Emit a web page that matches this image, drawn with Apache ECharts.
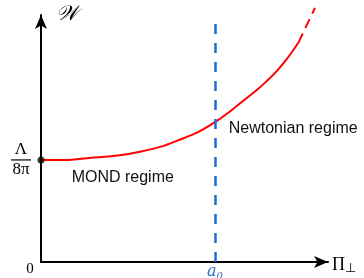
<!DOCTYPE html>
<html>
<head>
<meta charset="utf-8">
<script src="https://cdn.jsdelivr.net/npm/echarts@6/dist/echarts.min.js"></script>
<style>
  html, body { margin: 0; padding: 0; background: #fff; }
  #chart { width: 364px; height: 278px; }
</style>
</head>
<body>
<div id="chart"></div>
<script>
// x in units of a0, y in units of Lambda/8pi
var solidX = [0, 0.14, 0.28, 0.43, 0.57, 0.69, 0.80, 0.90, 1.00, 1.09, 1.17, 1.23, 1.29, 1.35, 1.40, 1.44, 1.48];
var solidY = [1.00, 1.00, 1.02, 1.04, 1.08, 1.13, 1.20, 1.27, 1.37, 1.48, 1.59, 1.67, 1.76, 1.86, 1.96, 2.05, 2.15];
var dashX = [1.48, 1.575];
var dashY = [2.15, 2.49];
var markerX = 1;
var xMax = 1.65;
var yMax = 2.42;
var notes = [
  { text: "MOND regime", x: 0.47, y: 0.83 },
  { text: "Newtonian regime", x: 1.45, y: 1.31 }
];

function pairs(xs, ys) {
  return xs.map(function (x, i) { return [x, ys[i]]; });
}

var chart = echarts.init(document.getElementById("chart"));
chart.setOption({
  animation: false,
  backgroundColor: "#fff",
  grid: { left: 41, right: 36, top: 15, bottom: 16, outerBoundsMode: "none", containLabel: false },
  xAxis: {
    type: "value",
    min: 0,
    max: xMax,
    name: "{p|Π}{s|⊥}",
    nameGap: 4,
    nameTextStyle: {
      rich: {
        p: { fontFamily: "Liberation Serif", fontSize: 18, color: "#000", padding: [6, 0, 0, 0] },
        s: { fontFamily: "Liberation Serif", fontSize: 13, color: "#000", padding: [14, 0, 0, 0] }
      }
    },
    splitLine: { show: false },
    axisTick: { show: false },
    axisLine: {
      lineStyle: { color: "#000", width: 2 },
      symbol: ["none", "arrow"],
      symbolSize: [9, 14],
      symbolOffset: [0, 0]
    },
    axisLabel: {
      customValues: [0, markerX],
      margin: 0,
      formatter: function (v) {
        return v === 0 ? "{z|0}" : "{a|a}{b|0}";
      },
      rich: {
        z: { fontFamily: "Liberation Serif", fontSize: 15, color: "#000", padding: [0, 22, 0, 0] },
        a: { fontFamily: "DejaVu Serif", fontStyle: "italic", fontSize: 16, color: "#2a6fc9" },
        b: { fontFamily: "DejaVu Serif", fontStyle: "italic", fontSize: 10, color: "#2a6fc9", padding: [9, 0, 0, 0] }
      }
    }
  },
  yAxis: {
    type: "value",
    min: 0,
    max: yMax,
    name: "𝒲",
    nameGap: -10,
    nameTextStyle: {
      fontFamily: "DejaVu Serif",
      fontStyle: "italic",
      fontSize: 21,
      color: "#000",
      align: "left",
      padding: [0, 0, 0, 15]
    },
    splitLine: { show: false },
    axisTick: { show: false },
    axisLine: {
      lineStyle: { color: "#000", width: 2 },
      symbol: ["none", "arrow"],
      symbolSize: [9, 14],
      symbolOffset: [0, 0]
    },
    axisLabel: {
      customValues: [1],
      margin: 10,
      formatter: function () {
        return "{n|Λ}\n{bar|}\n{d|8π}";
      },
      rich: {
        n: { fontFamily: "Liberation Serif", fontSize: 17, color: "#000", align: "center", lineHeight: 16 },
        bar: { width: 20, height: 1.2, backgroundColor: "#000", lineHeight: 4, align: "center" },
        d: { fontFamily: "Liberation Serif", fontSize: 17, color: "#000", align: "center", lineHeight: 16 }
      }
    }
  },
  series: [
    {
      type: "line",
      data: pairs(solidX, solidY),
      smooth: 0.3,
      showSymbol: false,
      lineStyle: { color: "#ff0000", width: 2 },
      markLine: {
        silent: true,
        symbol: ["none", "none"],
        label: { show: false },
        lineStyle: { color: "#1a6fd6", width: 2.5, type: [10, 9] },
        data: [{ xAxis: markerX }]
      },
      markPoint: {
        silent: true,
        symbol: "circle",
        symbolSize: 0,
        label: {
          show: true,
          formatter: "{b}",
          fontFamily: "Liberation Sans",
          fontSize: 16,
          color: "#111"
        },
        data: notes.map(function (n) { return { name: n.text, coord: [n.x, n.y] }; })
      }
    },
    {
      type: "line",
      data: pairs(dashX, dashY),
      clip: false,
      showSymbol: false,
      lineStyle: { color: "#ff0000", width: 2, type: [10, 6] }
    },
    {
      type: "scatter",
      data: [[solidX[0], solidY[0]]],
      symbolSize: 7,
      itemStyle: { color: "#000" },
      z: 5
    }
  ]
});
</script>
</body>
</html>
